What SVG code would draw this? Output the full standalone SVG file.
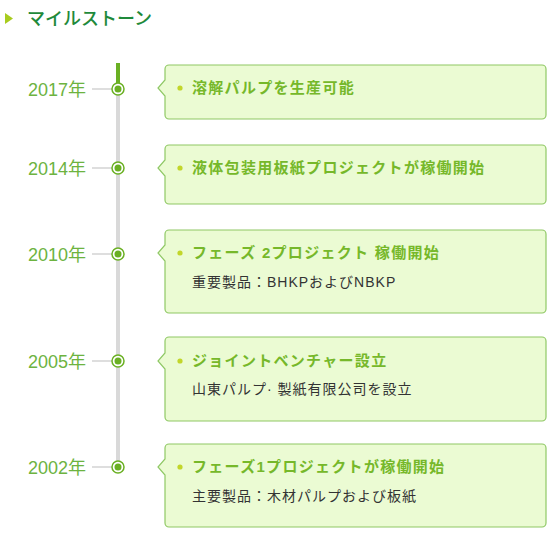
<svg xmlns="http://www.w3.org/2000/svg" width="556" height="540" viewBox="0 0 556 540">
<style>
.yr{font-family:"Liberation Sans","Noto Sans CJK JP",sans-serif;font-size:18px;fill:#6db33f;text-anchor:end}
.box{fill:#ebfbd3;stroke:#8fc865;stroke-width:1.2}
.bul{fill:#c2d62a}
.t{font-family:"Liberation Sans","Noto Sans CJK JP",sans-serif;font-size:15px;font-weight:bold;fill:#76b82a;letter-spacing:1.3px}
.s{font-family:"Liberation Sans","Noto Sans CJK JP",sans-serif;font-size:14px;fill:#333;letter-spacing:1px}
.conn{stroke:#c8c8c8;stroke-width:1.2}
.ring{fill:#fff;stroke:#6ab023;stroke-width:1.5}
.dot{fill:#6ab023}
</style>
<g id="heading">
<polygon points="5,13 13,18.5 5,24" fill="#a8cc1e"/>
<text x="27" y="25" font-family="'Liberation Sans','Noto Sans CJK JP',sans-serif" font-size="18" font-weight="500" fill="#1f8a3b">マイルストーン</text>
</g>
<g id="connectors">
<line x1="118" y1="63" x2="118" y2="470" stroke="#d9d9d9" stroke-width="4"/>
<line x1="118" y1="63" x2="118" y2="88" stroke="#6ab023" stroke-width="4"/>
<line class="conn" x1="92" y1="89" x2="112" y2="89"/>
<line class="conn" x1="92" y1="168" x2="112" y2="168"/>
<line class="conn" x1="92" y1="254" x2="112" y2="254"/>
<line class="conn" x1="92" y1="361" x2="112" y2="361"/>
<line class="conn" x1="92" y1="467" x2="112" y2="467"/>
</g>
<g id="m2017">
<text class="yr" x="86" y="96">2017年</text>
<circle class="ring" cx="118" cy="89" r="6"/><circle class="dot" cx="118" cy="89" r="3.5"/>
<path class="box" d="M169,65 H542 a4,4 0 0 1 4,4 V115 a4,4 0 0 1 -4,4 H169 a4,4 0 0 1 -4,-4 V96 L158,88 L165,80 V69 a4,4 0 0 1 4,-4 Z"/>
<circle class="bul" cx="180" cy="88" r="2.6"/>
<text class="t" x="192" y="93">溶解パルプを生産可能</text>
</g>
<g id="m2014">
<text class="yr" x="86" y="175">2014年</text>
<circle class="ring" cx="118" cy="168" r="6"/><circle class="dot" cx="118" cy="168" r="3.5"/>
<path class="box" d="M169,145 H542 a4,4 0 0 1 4,4 V200 a4,4 0 0 1 -4,4 H169 a4,4 0 0 1 -4,-4 V176 L158,168 L165,160 V149 a4,4 0 0 1 4,-4 Z"/>
<circle class="bul" cx="180" cy="168" r="2.6"/>
<text class="t" x="192" y="173">液体包装用板紙プロジェクトが稼働開始</text>
</g>
<g id="m2010">
<text class="yr" x="86" y="261">2010年</text>
<circle class="ring" cx="118" cy="254" r="6"/><circle class="dot" cx="118" cy="254" r="3.5"/>
<path class="box" d="M169,230 H542 a4,4 0 0 1 4,4 V309 a4,4 0 0 1 -4,4 H169 a4,4 0 0 1 -4,-4 V261 L158,253 L165,245 V234 a4,4 0 0 1 4,-4 Z"/>
<circle class="bul" cx="180" cy="253" r="2.6"/>
<text class="t" x="192" y="258">フェーズ 2プロジェクト 稼働開始</text>
<text class="s" x="192" y="287">重要製品：BHKPおよびNBKP</text>
</g>
<g id="m2005">
<text class="yr" x="86" y="368">2005年</text>
<circle class="ring" cx="118" cy="361" r="6"/><circle class="dot" cx="118" cy="361" r="3.5"/>
<path class="box" d="M169,337 H542 a4,4 0 0 1 4,4 V417 a4,4 0 0 1 -4,4 H169 a4,4 0 0 1 -4,-4 V369 L158,361 L165,353 V341 a4,4 0 0 1 4,-4 Z"/>
<circle class="bul" cx="180" cy="361" r="2.6"/>
<text class="t" x="192" y="366">ジョイントベンチャー設立</text>
<text class="s" x="192" y="394">山東パルプ· 製紙有限公司を設立</text>
</g>
<g id="m2002">
<text class="yr" x="86" y="474">2002年</text>
<circle class="ring" cx="118" cy="467" r="6"/><circle class="dot" cx="118" cy="467" r="3.5"/>
<path class="box" d="M169,444 H542 a4,4 0 0 1 4,4 V523 a4,4 0 0 1 -4,4 H169 a4,4 0 0 1 -4,-4 V475 L158,467 L165,459 V448 a4,4 0 0 1 4,-4 Z"/>
<circle class="bul" cx="180" cy="467" r="2.6"/>
<text class="t" x="192" y="472">フェーズ1プロジェクトが稼働開始</text>
<text class="s" x="192" y="501">主要製品：木材パルプおよび板紙</text>
</g>
</svg>
